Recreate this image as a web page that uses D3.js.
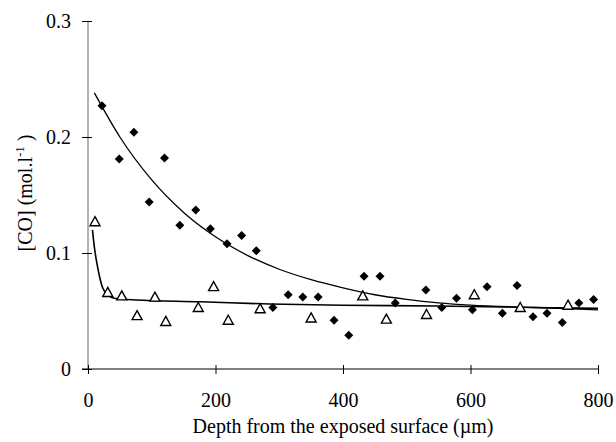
<!DOCTYPE html>
<html>
<head>
<meta charset="utf-8">
<script src="https://cdn.jsdelivr.net/npm/d3@7"></script>
<style>
  body { margin: 0; background: #fff; }
</style>
</head>
<body>
<div id="chart"></div>
<script>
const FONT = "'Liberation Serif', 'Times New Roman', Times, serif";

// diamonds (filled) - measured series
const diamondX = [22, 49, 72, 96, 120, 144, 169, 192, 218, 241, 264, 290, 314, 337, 361, 386, 409, 433, 458, 482, 530, 555, 578, 603, 626, 650, 673, 698, 720, 744, 770, 793];
const diamondY = [0.227, 0.181, 0.204, 0.144, 0.182, 0.124, 0.137, 0.121, 0.108, 0.115, 0.102, 0.053, 0.064, 0.062, 0.062, 0.042, 0.029, 0.080, 0.080, 0.057, 0.068, 0.053, 0.061, 0.051, 0.071, 0.048, 0.072, 0.045, 0.048, 0.040, 0.057, 0.060];

// triangles (open) - second series
const triX = [11, 31, 53, 77, 105, 122, 173, 197, 220, 270, 350, 431, 468, 531, 606, 678, 753];
const triY = [0.127, 0.066, 0.063, 0.046, 0.062, 0.041, 0.053, 0.071, 0.042, 0.052, 0.044, 0.063, 0.043, 0.047, 0.064, 0.053, 0.055];

// trend curves
const trendAX = [10, 50, 100, 150, 200, 250, 300, 350, 400, 450, 500, 550, 600, 700, 800];
const trendAY = [0.238, 0.200, 0.163, 0.135, 0.114, 0.098, 0.086, 0.077, 0.070, 0.064, 0.060, 0.057, 0.055, 0.053, 0.051];
const trendBX = [7, 10, 14, 18, 23, 31, 41, 75, 176, 285, 400, 547, 650, 725, 800];
const trendBY = [0.120, 0.105, 0.091, 0.080, 0.070, 0.064, 0.061, 0.0595, 0.058, 0.056, 0.055, 0.0543, 0.0535, 0.0528, 0.0523];

const xTicks = [0, 200, 400, 600, 800];
const yTicks = [0, 0.1, 0.2, 0.3];

const margin = {top: 21, right: 18, bottom: 73, left: 88};
const W = 616, H = 442;
const width = W - margin.left - margin.right;
const height = H - margin.top - margin.bottom;

const svg = d3.select("#chart").append("svg")
    .attr("width", W)
    .attr("height", H)
    .style("font-family", FONT);

const g = svg.append("g")
    .attr("transform", `translate(${margin.left},${margin.top})`);

const x = d3.scaleLinear().domain([0, 800]).range([0, width]);
const y = d3.scaleLinear().domain([0, 0.3]).range([height, 0]);

// y axis (grey line, ticks crossing to left)
const yAxis = g.append("g")
    .call(d3.axisLeft(y).tickValues(yTicks).tickSize(6).tickPadding(11)
        .tickFormat(d => d === 0 ? "0" : d3.format(".1f")(d)));
yAxis.attr("font-family", null).attr("font-size", null);
yAxis.select(".domain").attr("stroke", "#999").attr("stroke-width", 1.5)
    .attr("d", `M0,${height}V0`);
yAxis.selectAll(".tick line").attr("x1", -6).attr("x2", 4).attr("stroke", "#000");
yAxis.selectAll(".tick text")
    .style("font-family", FONT).style("font-size", "20px").attr("fill", "#000")
    .attr("dy", "0.33em");

// x axis (black line, ticks crossing)
const xAxis = g.append("g")
    .attr("transform", `translate(0,${height})`)
    .call(d3.axisBottom(x).tickValues(xTicks).tickSize(5));
xAxis.attr("font-family", null).attr("font-size", null);
xAxis.select(".domain").attr("stroke", "#000").attr("stroke-width", 1.2)
    .attr("d", `M-6,0H${width}`);
xAxis.selectAll(".tick line").attr("y1", -4).attr("y2", 5).attr("stroke", "#000");
xAxis.selectAll(".tick text")
    .style("font-family", FONT).style("font-size", "20px").attr("fill", "#000")
    .attr("y", 38).attr("dy", 0);

// trend lines
const line = d3.line().x(d => x(d[0])).y(d => y(d[1])).curve(d3.curveMonotoneX);
g.append("path")
    .datum(trendAX.map((v, i) => [v, trendAY[i]]))
    .attr("d", line).attr("fill", "none").attr("stroke", "#000").attr("stroke-width", 1.3);
g.append("path")
    .datum(trendBX.map((v, i) => [v, trendBY[i]]))
    .attr("d", line).attr("fill", "none").attr("stroke", "#000").attr("stroke-width", 1.6);

// diamonds
g.selectAll(".dia")
    .data(diamondX.map((v, i) => [v, diamondY[i]]))
    .enter().append("path")
    .attr("class", "dia")
    .attr("transform", d => `translate(${x(d[0])},${y(d[1])})`)
    .attr("d", "M0,-4.5L4.5,0L0,4.5L-4.5,0Z")
    .attr("fill", "#000");

// open triangles
g.selectAll(".tri")
    .data(triX.map((v, i) => [v, triY[i]]))
    .enter().append("path")
    .attr("class", "tri")
    .attr("transform", d => `translate(${x(d[0])},${y(d[1])})`)
    .attr("d", "M0,-5L5,4L-5,4Z")
    .attr("fill", "#fff")
    .attr("stroke", "#000")
    .attr("stroke-width", 1.4);

// axis titles
svg.append("text")
    .attr("x", margin.left + width / 2)
    .attr("y", 433)
    .attr("text-anchor", "middle")
    .style("font-family", FONT)
    .style("font-size", "20px")
    .text("Depth from the exposed surface (\u00b5m)");

const yt = svg.append("text")
    .attr("transform", `translate(32,193) rotate(-90)`)
    .attr("text-anchor", "middle")
    .style("font-family", FONT)
    .style("font-size", "20px");
yt.append("tspan").text("[CO] (mol.l");
yt.append("tspan").attr("dy", -8).style("font-size", "13px").text("-1");
yt.append("tspan").attr("dy", 8).text(" )");
</script>
</body>
</html>
